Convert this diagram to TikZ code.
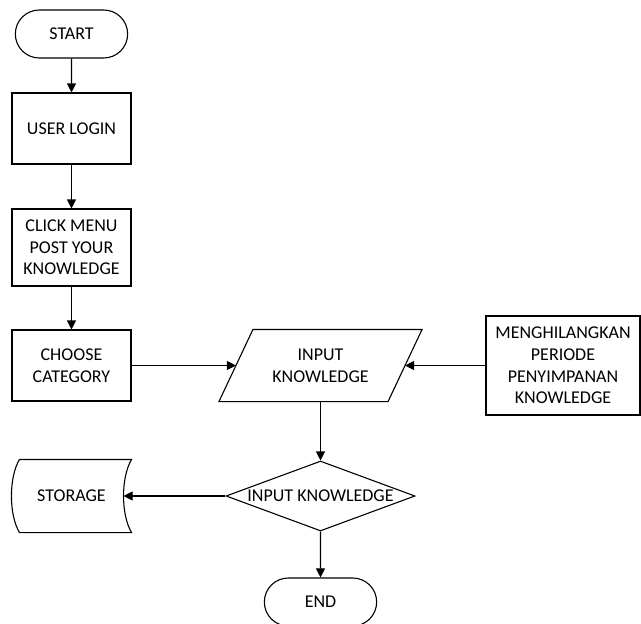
\documentclass[tikz,border=0pt]{standalone}
\usepackage{fontspec}
\setmainfont{Carlito}
\usetikzlibrary{shapes.geometric,shapes.misc,arrows.meta}

\begin{document}
\begin{tikzpicture}[x=1pt,y=1pt,line width=1.1pt,>={Triangle[length=9pt,width=9pt]},
every node/.style={font=\fontsize{18}{21.6}\selectfont,align=center},
term/.style={draw,rounded rectangle,minimum width=119pt,minimum height=48pt},
proc/.style={draw,rectangle,minimum width=119pt,minimum height=71pt},
dec/.style={draw,diamond,aspect=2.7,inner sep=0pt,minimum width=189pt,minimum height=70pt}]
\useasboundingbox (0,0) rectangle (641,-624);
\node[term] (start) at (71.5,-34) {START};
\node[proc] (login) at (71.5,-128.5) {USER LOGIN};
\node[proc,minimum height=77pt] (menu) at (71.5,-247.5) {CLICK MENU\\POST YOUR\\KNOWLEDGE};
\node[proc] (choose) at (71.5,-365.5) {CHOOSE\\CATEGORY};
\node[minimum width=168pt,minimum height=71pt] (input) at (320.5,-365.5) {INPUT\\KNOWLEDGE};
\draw ([xshift=-17pt]input.south west) -- ([xshift=-17pt]input.south east)
  -- ([xshift=17pt]input.north east) -- ([xshift=17pt]input.north west) -- cycle;
\node[proc,minimum width=154pt,minimum height=99pt] (remove) at (563,-365.5) {MENGHILANGKAN\\PERIODE\\PENYIMPANAN\\KNOWLEDGE};
\node[dec] (check) at (320.5,-496) {INPUT KNOWLEDGE};
\node[minimum width=119pt,minimum height=72pt] (storage) at (71.5,-496) {STORAGE};
\draw ([xshift=8pt]storage.north west) -- (storage.north east)
  .. controls +(-10.7,-18) and +(-10.7,18) .. (storage.south east)
  -- ([xshift=8pt]storage.south west)
  .. controls +(-10.7,18) and +(-10.7,-18) .. ([xshift=8pt]storage.north west);
\coordinate (storein) at ([xshift=-8pt]storage.east);
\node[term] (stop) at (320.5,-602) {END};
\draw[->] (start) -- (login);
\draw[->] (login) -- (menu);
\draw[->] (menu) -- (choose);
\draw[->] (choose) -- (input);
\draw[->] (remove) -- (input);
\draw[->] (input) -- (check);
\draw[->] (check) -- (storein);
\draw[->] (check) -- (stop);
\end{tikzpicture}
\end{document}
